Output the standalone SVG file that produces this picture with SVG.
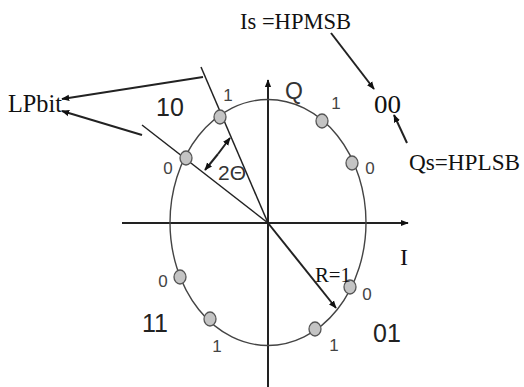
<svg xmlns="http://www.w3.org/2000/svg" width="524" height="387" viewBox="0 0 524 387">
<defs>
<marker id="ah" viewBox="0 0 10 10" refX="9" refY="5" markerWidth="8" markerHeight="8" markerUnits="userSpaceOnUse" orient="auto-start-reverse">
<path d="M0,1 L10,5 L0,9 z" fill="#111"/>
</marker>
<style>
.ln{stroke:#222;stroke-width:1.5;fill:none}
.ar{stroke:#222;stroke-width:2;fill:none;marker-end:url(#ah)}
.dot{fill:#c4c4c4;stroke:#555;stroke-width:1.3}
.lb{font-family:"Liberation Sans",Arial,sans-serif;fill:#333;text-anchor:middle}
.sm{font-size:17px;fill:#444}
.big{font-size:25px;fill:#222}
.sf{font-family:"Liberation Serif","Times New Roman",serif;fill:#111}
</style>
</defs>
<rect width="524" height="387" fill="#fff"/>
<g id="axes">
<line class="ar" x1="122" y1="223" x2="408" y2="223"/>
<line class="ar" x1="268" y1="387" x2="268" y2="80"/>
</g>
<g id="circle">
<ellipse cx="268" cy="222.5" rx="98" ry="123" fill="none" stroke="#444" stroke-width="1.4"/>
</g>
<g id="connectors">
<line class="ln" x1="201" y1="67" x2="268" y2="223"/>
<line class="ln" x1="142" y1="125" x2="268" y2="223"/>
<line class="ar" x1="203" y1="77" x2="62" y2="99"/>
<line class="ar" x1="142" y1="135" x2="62" y2="111"/>
<line class="ar" x1="331" y1="33" x2="374" y2="89"/>
<line class="ar" x1="407" y1="143" x2="394" y2="115"/>
<line class="ar" x1="268" y1="223" x2="336" y2="308"/>
<line class="ar" x1="218" y1="154" x2="230" y2="138"/>
<line class="ar" x1="218" y1="154" x2="205" y2="170"/>
</g>
<g id="dots">
<ellipse class="dot" cx="220" cy="117" rx="6" ry="7"/>
<ellipse class="dot" cx="186" cy="158" rx="6" ry="7"/>
<ellipse class="dot" cx="322" cy="121" rx="6" ry="7"/>
<ellipse class="dot" cx="352" cy="163" rx="6" ry="7"/>
<ellipse class="dot" cx="180" cy="277" rx="6" ry="7"/>
<ellipse class="dot" cx="210" cy="319" rx="6" ry="7"/>
<ellipse class="dot" cx="350" cy="287" rx="6" ry="7"/>
<ellipse class="dot" cx="315" cy="329" rx="6" ry="7"/>
</g>
<g id="bit-labels">
<text class="lb sm" x="228" y="101">1</text>
<text class="lb sm" x="168" y="174">0</text>
<text class="lb sm" x="336" y="109">1</text>
<text class="lb sm" x="370" y="174">0</text>
<text class="lb sm" x="163" y="287">0</text>
<text class="lb sm" x="217" y="352">1</text>
<text class="lb sm" x="367" y="300">0</text>
<text class="lb sm" x="334" y="351">1</text>
<text class="lb big" x="170" y="116">10</text>
<text class="lb big" x="155" y="332">11</text>
<text class="lb big" x="387" y="342">01</text>
</g>
<g id="axis-labels">
<text class="lb" x="294" y="99" font-size="23" fill="#111">Q</text>
<text class="sf" x="404" y="265" font-size="24" text-anchor="middle">I</text>
<text class="sf" x="315" y="282" font-size="21" textLength="36" lengthAdjust="spacingAndGlyphs">R=1</text>
<text class="lb" x="232" y="180" font-size="21" fill="#111">2Θ</text>
</g>
<g id="annotations">
<text class="sf" x="8" y="112" font-size="25" textLength="54" lengthAdjust="spacingAndGlyphs">LPbit</text>
<text class="sf" x="240" y="29" font-size="24" textLength="111" lengthAdjust="spacingAndGlyphs">Is =HPMSB</text>
<text class="sf" x="374" y="113" font-size="26" textLength="27" lengthAdjust="spacingAndGlyphs">00</text>
<text class="sf" x="409" y="170" font-size="24" textLength="111" lengthAdjust="spacingAndGlyphs">Qs=HPLSB</text>
</g>
</svg>
